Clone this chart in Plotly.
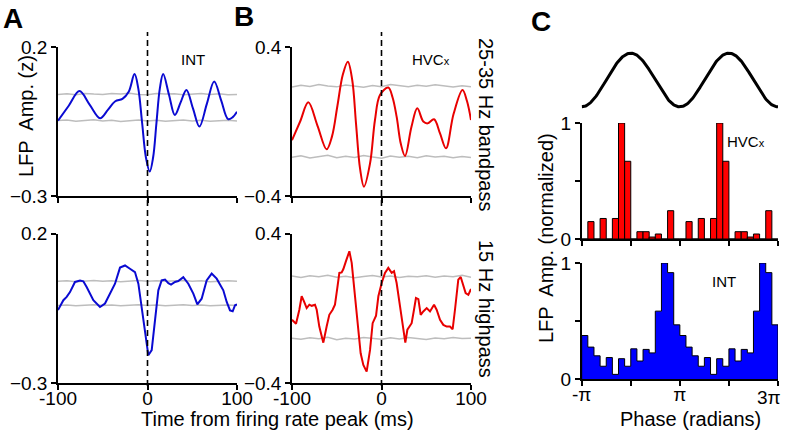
import numpy as np
import plotly.graph_objects as go

W, H = 786, 431
FONT = "Liberation Sans, Arial, sans-serif"
PI = np.pi

# ---------------- data ----------------
# Panel A top: INT, 25-35 Hz bandpass
t_int_bp = [-100, -88, -76, -64.5, -53, -44.5, -36, -28, -21, -14.5, -10.3, -6, -1.8, 2.5, 6.3,
            10, 13.8, 17.5, 24, 30.5, 37, 43.5, 50.8, 58, 66.3, 74.5, 82.3, 90, 95, 100]
v_int_bp = [-0.047, 0.003, 0.052, 0.006, -0.039, -0.012, 0.018, 0.026, 0.05, 0.109, 0.061, -0.055,
            -0.17, -0.218, -0.17, -0.055, 0.061, 0.109, 0.04, -0.028, 0.014, 0.056, -0.006, -0.067,
            0.009, 0.084, 0.021, -0.042, -0.036, -0.017]

# Panel A bottom: INT, 15 Hz highpass
t_int_hp = [-100, -94.0, -90.3, -86.6, -81.0, -75.4, -71.7, -68.0, -60.5, -53.1, -47.5, -41.9, -36.3,
            -30.7, -25.1, -19.6, -14.0, -10.2, -6.5, -2.8, 0.9, 4.7, 8.4, 12.1, 15.8, 19.6, 23.3,
            26.3, 30.7, 34.4, 40.0, 45.6, 51.2, 55.7, 60.5, 66.1, 71.7, 77.3, 84.7, 88.5, 92.2,
            95.2, 97.8, 100]
v_int_hp = [-0.056, -0.023, -0.012, 0.004, 0.038, 0.043, 0.040, 0.021, -0.023, -0.046, -0.034,
            -0.001, 0.032, 0.086, 0.093, 0.082, 0.071, 0.032, -0.046, -0.134, -0.207, -0.19,
            -0.09, 0.01, 0.043, 0.046, 0.034, 0.029, 0.038, 0.041, 0.054, 0.032, -0.001, -0.037,
            -0.018, 0.043, 0.066, 0.049, 0.01, -0.029, -0.057, -0.06, -0.04, -0.037]

# Panel B top: HVCx, 25-35 Hz bandpass
t_hvc_bp = [-100, -90.9, -81.8, -71.5, -61.3, -55.3, -49.2, -43.2, -37.6, -32.7, -28.4, -24.0,
            -19.6, -12.8, -7.3, -1.7, 7.6, 12.3, 16.9, 21.6, 26.3, 33.5, 40, 46.7, 51.6, 58.7,
            65.4, 72.1, 80.5, 90.5, 95.5, 100]
v_hvc_bp = [-0.10, 0.0, 0.103, -0.023, -0.149, -0.08, 0.086, 0.252, 0.321, 0.223, -0.015, -0.252,
            -0.35, -0.225, 0.008, 0.142, 0.182, 0.13, 0.026, -0.12, -0.185, -0.028, 0.071, 0.0,
            -0.01, 0.012, -0.064, -0.144, 0.04, 0.169, 0.11, 0.008]

# Panel B bottom: HVCx, 15 Hz highpass
t_hvc_hp = [-100, -99.3, -95.5, -91.8, -89.2, -86.6, -83.6, -80.6, -78.0, -74.3, -72.4, -69.5,
            -65.0, -61.3, -58.3, -54.6, -52.0, -49.4, -47.1, -44.5, -42.6, -39.7, -35.9, -33.3,
            -29.6, -25.9, -23.3, -20.3, -16.6, -12.8, -9.9, -6.1, -3.5, 0.2, 3.9, 7.6, 11.4, 14.0,
            16.9, 20.7, 24.4, 26.6, 28.9, 33.7, 36.3, 38.5, 41.2, 43.8, 46.7, 50.5, 54.2, 58.7,
            61.6, 65.4, 69.1, 72.8, 76.5, 79.5, 82.1, 85.8, 88.5, 91.4, 94.0, 97.0, 100]
v_hvc_hp = [-0.062, -0.065, -0.083, -0.008, 0.064, 0.037, 0.001, 0.019, 0.013, 0.019, -0.008,
            -0.098, -0.184, -0.098, -0.035, -0.008, 0.019, 0.108, 0.189, 0.192, 0.210, 0.252,
            0.305, 0.243, 0.064, -0.080, -0.241, -0.303, -0.339, -0.223, -0.080, -0.040, 0.064,
            0.135, 0.189, 0.216, 0.189, 0.198, 0.135, 0.010, -0.115, -0.184, -0.115, -0.080,
            -0.008, 0.055, 0.049, -0.035, -0.017, 0.001, -0.017, 0.019, -0.008, -0.062, -0.089,
            -0.098, -0.098, -0.112, -0.008, 0.153, 0.167, 0.126, 0.081, 0.072, 0.103]

# significance bands (grey)
t_band = list(range(-100, 101, 10))
int_bp_hi = [0.041, 0.043, 0.040, 0.044, 0.042, 0.041, 0.044, 0.042, 0.045, 0.041, 0.040,
             0.044, 0.042, 0.043, 0.040, 0.043, 0.044, 0.041, 0.043, 0.040, 0.041]
int_bp_lo = [-0.047, -0.045, -0.049, -0.046, -0.044, -0.048, -0.046, -0.050, -0.047, -0.045,
             -0.048, -0.046, -0.049, -0.047, -0.045, -0.048, -0.046, -0.049, -0.047, -0.046, -0.048]
int_hp_hi = [0.040, 0.042, 0.039, 0.041, 0.043, 0.040, 0.042, 0.039, 0.041, 0.043, 0.040,
             0.042, 0.040, 0.041, 0.043, 0.040, 0.042, 0.039, 0.041, 0.042, 0.040]
int_hp_lo = [-0.041, -0.039, -0.042, -0.040, -0.038, -0.041, -0.039, -0.042, -0.040, -0.038,
             -0.041, -0.039, -0.042, -0.040, -0.038, -0.041, -0.039, -0.042, -0.040, -0.039, -0.041]
hvc_bp_hi = [0.185, 0.195, 0.188, 0.198, 0.190, 0.186, 0.196, 0.189, 0.184, 0.193, 0.187,
             0.199, 0.191, 0.186, 0.194, 0.189, 0.197, 0.190, 0.185, 0.192, 0.187]
hvc_bp_lo = [-0.192, -0.184, -0.196, -0.188, -0.181, -0.195, -0.186, -0.193, -0.183, -0.190,
             -0.197, -0.185, -0.192, -0.187, -0.195, -0.184, -0.191, -0.186, -0.194, -0.188, -0.193]
hvc_hp_hi = [0.172, 0.165, 0.174, 0.168, 0.176, 0.166, 0.171, 0.163, 0.170, 0.175, 0.167,
             0.173, 0.165, 0.171, 0.168, 0.174, 0.166, 0.172, 0.169, 0.176, 0.166]
hvc_hp_lo = [-0.160, -0.166, -0.158, -0.163, -0.155, -0.168, -0.160, -0.165, -0.157, -0.162,
             -0.166, -0.158, -0.164, -0.156, -0.161, -0.167, -0.159, -0.163, -0.157, -0.162, -0.160]

# Panel C: phase histograms (16 bins per cycle, plotted over two cycles)
red_cycle = [0, 0.15, 0, 0.177, 0, 0.177, 1.0, 0.67, 0, 0.063, 0.063, 0.017, 0.043, 0, 0.244, 0]
blue_cycle = [0.375, 0.275, 0.2, 0.11, 0.185, 0.04, 0.175, 0.11, 0.26, 0.155, 0.255, 0.225,
              0.585, 1.0, 0.917, 0.467]
red_hist = red_cycle + red_cycle
blue_hist = blue_cycle + blue_cycle

# ---------------- helpers (layout only; arguments are window pixels) ----------------
def fx(p):
    return p / W

def fy(p):
    return 1 - p / H

BLUE = "#0a0ad2"
RED = "#e80000"
GREY = "#bdbdbd"

fig = go.Figure()

def add_line(x, y, color, width, ax, shape="linear"):
    fig.add_trace(go.Scatter(x=x, y=y, mode="lines", xaxis="x" + ax, yaxis="y" + ax,
                             line=dict(color=color, width=width, shape=shape, smoothing=1.0),
                             showlegend=False, hoverinfo="skip"))

# A top
add_line(t_band, int_bp_hi, GREY, 1.5, "")
add_line(t_band, int_bp_lo, GREY, 1.5, "")
add_line(t_int_bp, v_int_bp, BLUE, 2, "", "spline")
# A bottom
add_line(t_band, int_hp_hi, GREY, 1.5, "2")
add_line(t_band, int_hp_lo, GREY, 1.5, "2")
add_line(t_int_hp, v_int_hp, BLUE, 2, "2")
# B top
add_line(t_band, hvc_bp_hi, GREY, 1.5, "3")
add_line(t_band, hvc_bp_lo, GREY, 1.5, "3")
add_line(t_hvc_bp, v_hvc_bp, RED, 2, "3", "spline")
# B bottom
add_line(t_band, hvc_hp_hi, GREY, 1.5, "4")
add_line(t_band, hvc_hp_lo, GREY, 1.5, "4")
add_line(t_hvc_hp, v_hvc_hp, RED, 2, "4")

# C: reference oscillation
phase_ref = np.linspace(-PI, 3 * PI, 300)
add_line(phase_ref, np.cos(phase_ref), "black", 3, "5")

# C: red histogram (bars)
nb = len(red_hist)
bw = 4 * PI / nb
centers = [-PI + bw / 2 + i * bw for i in range(nb)]
fig.add_trace(go.Bar(x=centers, y=red_hist, width=[bw] * nb, xaxis="x6", yaxis="y6",
                     marker=dict(color="#ff0000", line=dict(color="black", width=1)),
                     showlegend=False, hoverinfo="skip"))

# C: blue histogram (stairs)
edges = [-PI + i * bw for i in range(nb + 1)]
sx = [edges[0]] + edges[:-1] + [edges[-1], edges[-1]]
sy = [0] + blue_hist + [blue_hist[-1], 0]
fig.add_trace(go.Scatter(x=sx, y=sy, mode="lines", xaxis="x7", yaxis="y7",
                         line=dict(color="black", width=1, shape="hv"),
                         fill="tozeroy", fillcolor="#0000ff",
                         showlegend=False, hoverinfo="skip"))

# ---------------- axes ----------------
tickfont = dict(family=FONT, size=19, color="black")
base = dict(showline=True, linecolor="black", linewidth=1.5, ticks="outside", ticklen=5,
            tickwidth=1.5, tickcolor="black", showgrid=False, zeroline=False, tickfont=tickfont,
            fixedrange=True, automargin=False)
xstand = dict(ticklabelstandoff=-8)

xA = [fx(58), fx(237)]
xB = [fx(292), fx(471)]
xC = [fx(581.7), fx(778)]
yTop = [fy(196), fy(47)]
yBot = [fy(383), fy(233.5)]

tx = dict(range=[-100, 100], tickvals=[-100, 0, 100], ticktext=["-100", "0", "100"])

layout = dict(
    width=W, height=H, margin=dict(l=0, r=0, t=0, b=0, autoexpand=False),
    paper_bgcolor="white", plot_bgcolor="rgba(0,0,0,0)", showlegend=False,
    xaxis=dict(base, domain=xA, anchor="y", showticklabels=False, **tx),
    yaxis=dict(base, domain=yTop, anchor="x", range=[-0.3, 0.2], tickvals=[-0.3, 0.2],
               ticktext=["\u22120.3", "0.2"]),
    xaxis2=dict(base, domain=xA, anchor="y2", **tx, **xstand),
    yaxis2=dict(base, domain=yBot, anchor="x2", range=[-0.3, 0.2], tickvals=[-0.3, 0.2],
                ticktext=["\u22120.3", "0.2"]),
    xaxis3=dict(base, domain=xB, anchor="y3", showticklabels=False, **tx),
    yaxis3=dict(base, domain=yTop, anchor="x3", range=[-0.4, 0.4], tickvals=[-0.4, 0.4],
                ticktext=["\u22120.4", "0.4"]),
    xaxis4=dict(base, domain=xB, anchor="y4", **tx, **xstand),
    yaxis4=dict(base, domain=yBot, anchor="x4", range=[-0.4, 0.4], tickvals=[-0.4, 0.4],
                ticktext=["\u22120.4", "0.4"]),
    xaxis5=dict(domain=xC, anchor="y5", range=[-PI, 3 * PI], visible=False, fixedrange=True,
                automargin=False),
    yaxis5=dict(domain=[fy(109.5), fy(50.5)], anchor="x5", range=[-1.1, 1.1], visible=False,
                fixedrange=True, automargin=False),
    xaxis6=dict(base, domain=xC, anchor="y6", range=[-PI, 3 * PI],
                tickvals=[-PI, 0, PI, 2 * PI, 3 * PI], showticklabels=False),
    yaxis6=dict(base, domain=[fy(239), fy(123)], anchor="x6", range=[0, 1],
                tickvals=[0, 0.5, 1], ticktext=["0", "", "1"]),
    xaxis7=dict(base, domain=xC, anchor="y7", range=[-PI, 3 * PI],
                tickvals=[-PI, 0, PI, 2 * PI, 3 * PI], ticktext=["-\u03c0", "", "\u03c0", "", ""],
                **xstand),
    yaxis7=dict(base, domain=[fy(379), fy(263)], anchor="x7", range=[0, 1],
                tickvals=[0, 0.5, 1], ticktext=["0", "", "1"]),
)
fig.update_layout(**layout)

# dashed zero lines spanning both rows
for xr in ["x", "x3"]:
    fig.add_shape(type="line", xref=xr, yref="paper", x0=0, x1=0, y0=fy(386), y1=fy(32),
                  line=dict(color="black", width=1.6, dash="6px,4px"))

def ann(text, x, y, size, angle=0, bold=False):
    if bold:
        text = "<b>" + text + "</b>"
    fig.add_annotation(text=text, x=fx(x), y=fy(y), xref="paper", yref="paper",
                       showarrow=False, textangle=angle, xanchor="center", yanchor="middle",
                       font=dict(family=FONT, size=size, color="black"))

ann("A", 13, 18, 28, bold=True)
ann("B", 244, 17, 28, bold=True)
ann("C", 541, 22, 28, bold=True)
ann("INT", 193, 60, 15)
ann("HVC<span style='font-size:11px'>x</span>", 431, 60, 15)
ann("INT", 724, 281, 15)
ann("HVC<span style='font-size:11px'>x</span>", 746, 141, 15)
ann("25-35 Hz bandpass", 486, 124, 20, angle=90)
ann("15 Hz highpass", 486, 309, 20, angle=90)
ann("LFP  Amp. (z)", 26, 116, 20, angle=-90)
ann("LFP  Amp. (normalized)", 546, 238, 20, angle=-90)
ann("Time from firing rate peak (ms)", 277, 419, 20)
ann("Phase (radians)", 690, 419, 20)
ann("3\u03c0", 769, 397, 19)

fig.write_html("out.html", config={"displayModeBar": False},
               post_script="document.body.style.margin='0px';")
